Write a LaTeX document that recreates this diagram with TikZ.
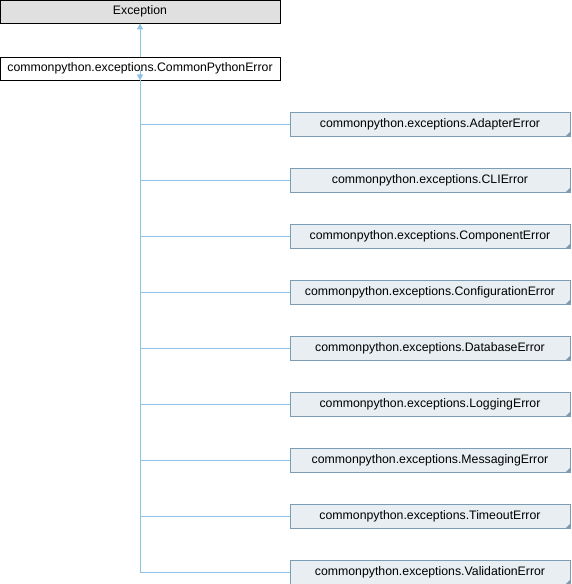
\documentclass[tikz,border=0pt]{standalone}
\usepackage{fontspec}
\setmainfont{Liberation Sans}
\usetikzlibrary{arrows.meta}
\definecolor{edgec}{HTML}{8CC4E8}
\definecolor{boxb}{HTML}{7A9CB5}
\definecolor{boxf}{HTML}{E8EEF2}
\definecolor{grayf}{HTML}{E0E0E0}
\tikzset{
  basebox/.style={draw=black, fill=#1, line width=0.9pt, minimum width=280pt, minimum height=23pt, inner sep=0pt, font=\fontsize{12.3}{14}\selectfont},
  subbox/.style={draw=boxb, fill=boxf, line width=0.9pt, minimum width=280pt, minimum height=24pt, inner sep=0pt, font=\fontsize{12.3}{14}\selectfont},
  edge/.style={draw=edgec, line width=1pt},
  inh/.style={edge, -{Triangle[length=6pt,width=6pt,fill=edgec]}},
}
\begin{document}
\begin{tikzpicture}[x=1pt,y=-1pt]
\useasboundingbox (0,0) rectangle (572,584);
\node[basebox=grayf] (exc) at (140,11.5) {Exception};
\node[basebox=white] (cpe) at (140,68.5) {commonpython.exceptions.CommonPythonError};
\draw[inh] (cpe.north) -- (exc.south);
\foreach \n/\t [count=\i] in {ad/AdapterError, cli/CLIError, comp/ComponentError, conf/ConfigurationError, db/DatabaseError, log/LoggingError, msg/MessagingError, to/TimeoutError, val/ValidationError}{
  \node[subbox] (\n) at (430,{124+56*(\i-1)}) {commonpython.exceptions.\t};
  \fill[boxb] (\n.south east) -- ++(0,-5) -- ++(-5,5) -- cycle;
}
\coordinate (j) at (cpe.south |- val.west);
\draw[edge] (j) -- (cpe.south);
\draw[inh] ([yshift=10pt]cpe.south) -- (cpe.south);
\foreach \n in {ad,cli,comp,conf,db,log,msg,to,val}{
  \draw[edge] (\n.west) -- (cpe.south |- \n.west);
}
\end{tikzpicture}
\end{document}
